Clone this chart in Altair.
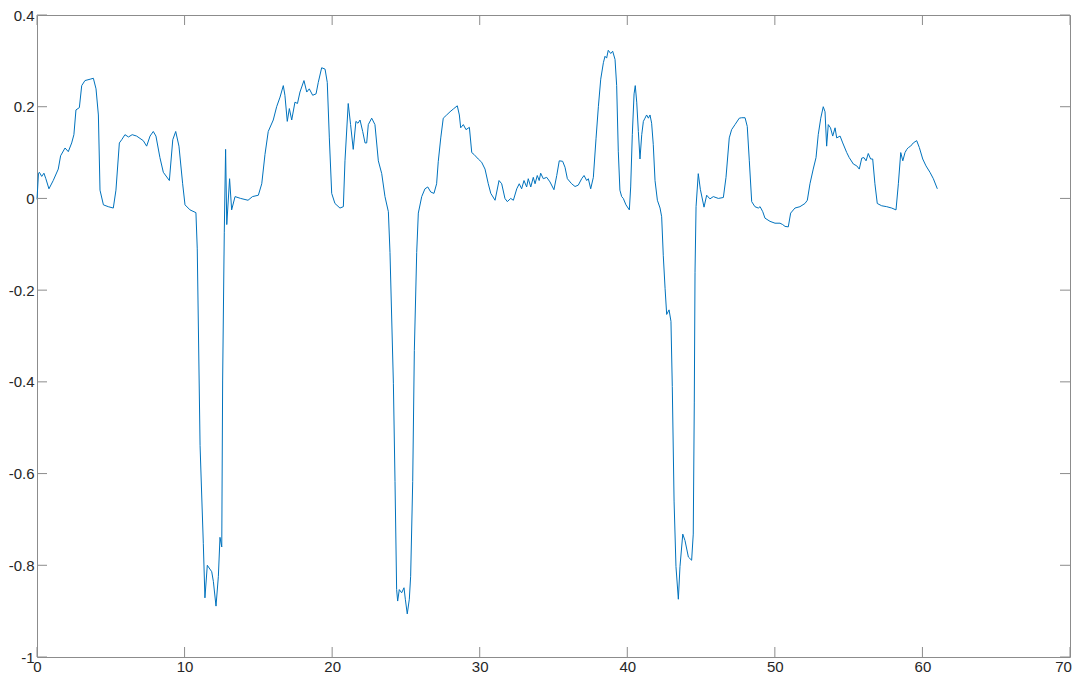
import altair as alt
import pandas as pd

x_vals = [0, 0.1, 0.16, 0.32, 0.47, 0.6, 0.81, 1.1, 1.44, 1.6, 1.9, 2.12, 2.35, 2.5, 2.64, 2.87, 3.03, 3.25, 3.6, 3.82,
          4.0, 4.16, 4.27, 4.5, 4.83, 5.17, 5.35, 5.58, 5.74, 5.96, 6.2, 6.45, 6.75, 7.2, 7.43, 7.66, 7.88, 8.06, 8.33, 8.56,
          8.97, 9.2, 9.4, 9.62, 9.87, 10.03, 10.37, 10.77,
          10.86, 11.05, 11.27, 11.38, 11.54, 11.84, 11.95, 12.13, 12.29, 12.4, 12.52, 12.58, 12.69, 12.78, 12.86, 13.05,
          13.19, 13.42, 13.8, 14.3, 14.6, 15.0,
          15.23, 15.45, 15.67, 16.01, 16.24, 16.47, 16.69, 16.8, 16.96, 17.1, 17.26, 17.48, 17.65, 17.82, 18.09, 18.28,
          18.45, 18.68, 18.91, 19.06, 19.29, 19.52, 19.67, 19.81, 19.97, 20.19, 20.53, 20.76, 20.87, 21.09, 21.25, 21.43,
          21.61, 21.75, 21.89, 22.07, 22.23, 22.34, 22.45, 22.68, 22.9, 23.13, 23.36, 23.58, 23.81,
          23.92, 24.15, 24.26, 24.37, 24.44, 24.55, 24.71, 24.87, 24.96, 25.09, 25.23, 25.32, 25.46, 25.57, 25.73, 25.84,
          26.07, 26.29, 26.48, 26.68, 26.9, 27.08, 27.19, 27.36, 27.53, 27.76, 27.99, 28.21, 28.48, 28.62, 28.71, 28.89,
          29.07, 29.3, 29.46, 29.61, 29.9, 30.13, 30.36, 30.58, 30.75, 31.04, 31.31, 31.49, 31.71, 31.87, 32.1, 32.28,
          32.51, 32.68, 32.84, 33.0, 33.18, 33.29, 33.46, 33.63, 33.75, 33.9, 34.03, 34.13, 34.31, 34.54, 34.76, 35.03,
          35.22, 35.39, 35.62, 35.78, 35.94, 36.23, 36.46, 36.68, 36.91, 37.07, 37.25, 37.36, 37.52, 37.7, 37.88, 38.04,
          38.2, 38.38, 38.49, 38.6, 38.71, 38.88, 39.01, 39.17, 39.28, 39.39, 39.5, 39.62, 39.73, 39.91, 40.14, 40.23,
          40.34, 40.46, 40.54, 40.64, 40.75, 40.86, 40.98, 41.09, 41.2, 41.31, 41.43, 41.54, 41.65, 41.76, 41.88, 42.04,
          42.22, 42.33,
          42.44, 42.56, 42.67, 42.83, 42.96, 43.05, 43.17, 43.3, 43.46, 43.57, 43.76, 43.91, 44.14, 44.36, 44.47, 44.54,
          44.59, 44.66, 44.81, 44.95, 45.2, 45.38, 45.6, 45.83, 46.17, 46.51, 46.69, 46.91, 47.07, 47.3, 47.59, 47.75,
          47.98, 48.13, 48.27, 48.43, 48.65, 48.88, 49.0, 49.18, 49.33, 49.67, 50.01, 50.35, 50.53, 50.69, 50.91, 51.07,
          51.36, 51.7, 52.04, 52.2, 52.38, 52.6, 52.79, 52.94, 53.11, 53.28, 53.4, 53.51, 53.62, 53.77, 53.92, 54.08,
          54.19, 54.42, 54.6, 54.87, 55.04, 55.32, 55.55, 55.72, 55.89, 56.04, 56.18, 56.33, 56.49, 56.63, 56.78, 56.94,
          57.24, 57.58, 57.92, 58.21, 58.37, 58.53, 58.67, 58.82, 58.94, 59.05, 59.2, 59.38, 59.61, 59.79, 60.02, 60.24,
          60.51, 60.74, 61.01]

y_vals = [-0.002, 0.055, 0.057, 0.048, 0.055, 0.043, 0.021, 0.039, 0.064, 0.093, 0.11, 0.102, 0.121, 0.139, 0.193, 0.198,
          0.246, 0.257, 0.26, 0.262, 0.239, 0.182, 0.018, -0.014, -0.018, -0.021, 0.018, 0.121, 0.128, 0.139, 0.134, 0.139,
          0.136, 0.126, 0.114, 0.136, 0.146, 0.136, 0.089, 0.057, 0.039, 0.128, 0.146, 0.114, 0.032, -0.014, -0.025, -0.031,
          -0.11, -0.539, -0.753, -0.871, -0.8, -0.814, -0.835, -0.889, -0.824, -0.739, -0.76, -0.396, -0.075, 0.107, -0.057,
          0.043, -0.025, 0.004, 0.0, -0.004, 0.004, 0.007,
          0.032, 0.096, 0.146, 0.171, 0.2, 0.221, 0.246, 0.225, 0.168, 0.196, 0.171, 0.21, 0.207, 0.232, 0.257, 0.232,
          0.239, 0.225, 0.228, 0.253, 0.285, 0.282, 0.253, 0.132, 0.011, -0.011, -0.021, -0.018, 0.082, 0.207, 0.161, 0.107,
          0.168, 0.164, 0.171, 0.146, 0.121, 0.121, 0.161, 0.175, 0.161, 0.082, 0.054, 0.004, -0.029,
          -0.118, -0.403, -0.617, -0.853, -0.878, -0.853, -0.86, -0.849, -0.874, -0.906, -0.874, -0.824, -0.617, -0.332,
          -0.118, -0.032, 0.004, 0.021, 0.025, 0.014, 0.011, 0.032, 0.08, 0.132, 0.175, 0.182, 0.189, 0.195, 0.202, 0.182,
          0.154, 0.161, 0.15, 0.155, 0.1, 0.096, 0.086, 0.079, 0.064, 0.032, 0.011, -0.004, 0.039, 0.032, 0.0, -0.007, 0.0,
          -0.004, 0.021, 0.032, 0.021, 0.039, 0.025, 0.043, 0.025, 0.046, 0.032, 0.05, 0.039, 0.055, 0.043, 0.046, 0.036,
          0.019, 0.05, 0.082, 0.081, 0.068, 0.043, 0.032, 0.026, 0.029, 0.043, 0.05, 0.039, 0.043, 0.021, 0.046, 0.13, 0.2,
          0.26, 0.296, 0.31, 0.306, 0.323, 0.316, 0.321, 0.303, 0.246, 0.103, 0.018, 0.004, 0.0, -0.014, -0.025, 0.025,
          0.139, 0.228, 0.246, 0.21, 0.146, 0.086, 0.139, 0.168, 0.175, 0.182, 0.175, 0.182, 0.164, 0.118, 0.039, -0.004,
          -0.021, -0.04,
          -0.125, -0.196, -0.253, -0.243, -0.268, -0.41, -0.66, -0.803, -0.874, -0.803, -0.732, -0.746, -0.782, -0.789,
          -0.732, -0.446, -0.161, -0.018, 0.054, 0.02, -0.019, 0.007, -0.001, 0.004, 0.0, 0.002, 0.046, 0.132, 0.15, 0.161,
          0.175, 0.176, 0.176, 0.157, 0.082, -0.007, -0.018, -0.021, -0.018, -0.029, -0.043, -0.05, -0.054, -0.054, -0.057,
          -0.061, -0.062, -0.032, -0.021, -0.018, -0.011, -0.004, 0.032, 0.064, 0.089, 0.139, 0.175, 0.2, 0.189, 0.114,
          0.161, 0.154, 0.136, 0.154, 0.132, 0.136, 0.121, 0.1, 0.089, 0.075, 0.071, 0.064, 0.088, 0.089, 0.082, 0.098,
          0.086, 0.086, 0.032, -0.011, -0.016, -0.018, -0.021, -0.025, 0.032, 0.1, 0.082, 0.1, 0.107, 0.111, 0.114, 0.121,
          0.126, 0.111, 0.086, 0.071, 0.057, 0.043, 0.021]

x_ticks = [0, 10, 20, 30, 40, 50, 60, 70]
y_ticks = [-1, -0.8, -0.6, -0.4, -0.2, 0, 0.2, 0.4]

W, H = 1033, 642
TICK = 10
AXIS_COLOR = "#8c8c8c"
LABEL_COLOR = "#262626"
FONT = "Liberation Sans"
FS = 15

df = pd.DataFrame({"x": x_vals, "y": y_vals})
xt = pd.DataFrame({"x": x_ticks})
yt = pd.DataFrame({"y": y_ticks})

xs = alt.Scale(domain=[0, 70], nice=False, zero=False)
ys = alt.Scale(domain=[-1, 0.4], nice=False, zero=False)

x_axis = alt.Axis(values=x_ticks, title=None, ticks=False, domain=False, grid=False,
                  labelFontSize=FS, labelFont=FONT, labelColor=LABEL_COLOR,
                  labelPadding=2, labelFlush=False, labelOverlap=False,
                  labelOffset={"condition": {"test": "datum.value == 70", "value": -7}, "value": 0})
y_axis = alt.Axis(values=y_ticks, title=None, ticks=False, domain=False, grid=False,
                  labelFontSize=FS, labelFont=FONT, labelColor=LABEL_COLOR,
                  labelPadding=3, labelFlush=False, labelOverlap=False,
                  labelExpr="'' + datum.value")

line = alt.Chart(df).mark_line(color="#0072BD", strokeWidth=1).encode(
    x=alt.X("x:Q", scale=xs, axis=x_axis),
    y=alt.Y("y:Q", scale=ys, axis=y_axis),
)

rule_kw = dict(color=AXIS_COLOR, strokeWidth=1)
bottom_ticks = alt.Chart(xt).mark_rule(**rule_kw).encode(
    x=alt.X("x:Q", scale=xs, axis=x_axis), y=alt.value(H), y2=alt.value(H - TICK))
top_ticks = alt.Chart(xt).mark_rule(**rule_kw).encode(
    x=alt.X("x:Q", scale=xs, axis=x_axis), y=alt.value(0), y2=alt.value(TICK))
left_ticks = alt.Chart(yt).mark_rule(**rule_kw).encode(
    y=alt.Y("y:Q", scale=ys, axis=y_axis), x=alt.value(0), x2=alt.value(TICK))
right_ticks = alt.Chart(yt).mark_rule(**rule_kw).encode(
    y=alt.Y("y:Q", scale=ys, axis=y_axis), x=alt.value(W), x2=alt.value(W - TICK))

chart = alt.layer(line, bottom_ticks, top_ticks, left_ticks, right_ticks).properties(
    width=W, height=H,
    autosize=alt.AutoSizeParams(type="none"),
    padding={"left": 29, "top": 7, "right": 2, "bottom": 20},
    background="white",
).configure_view(stroke=AXIS_COLOR, strokeWidth=1)

chart.save("out.html", embed_options={"renderer": "svg", "actions": False})
